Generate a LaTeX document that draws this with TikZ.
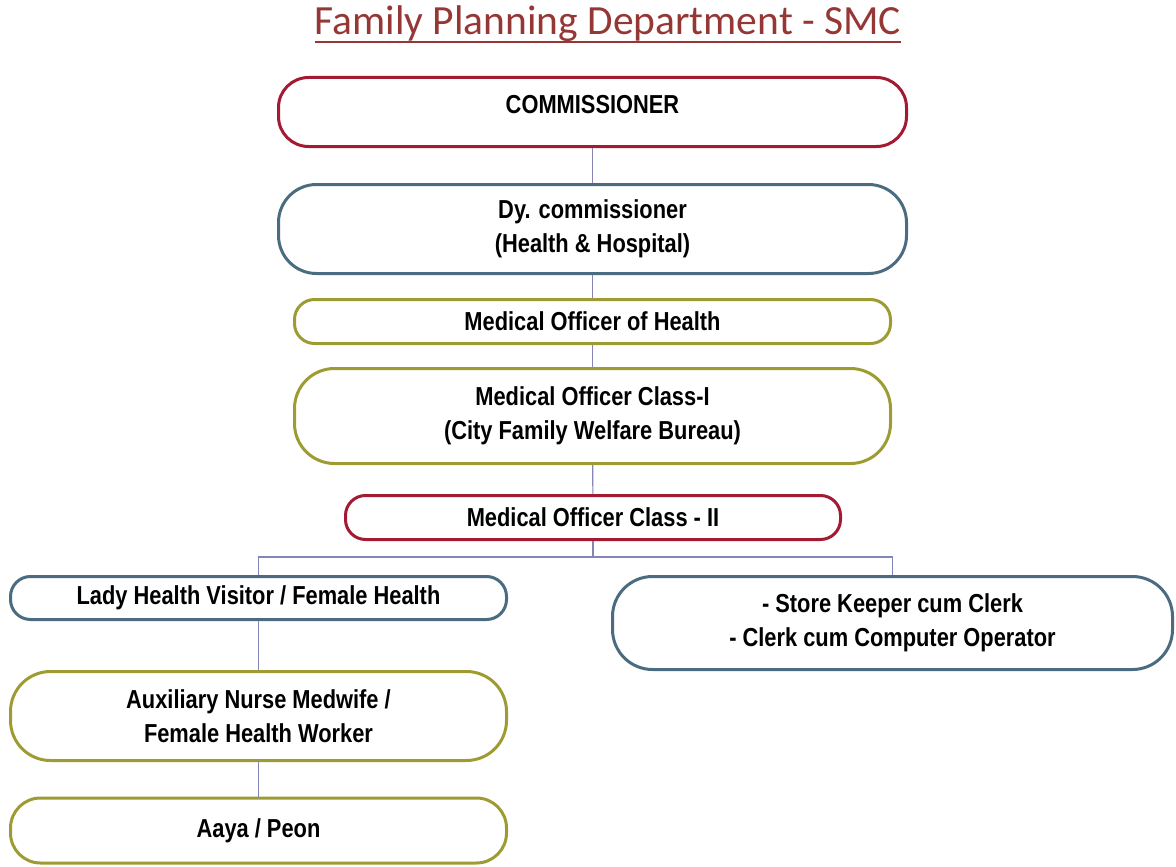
\documentclass[tikz,border=0pt]{standalone}
\usepackage{fontspec}
\setmainfont{Liberation Sans}[FakeStretch=0.84]
\newfontfamily\titlefont{Carlito}
\usepackage{tikz}

\definecolor{boxred}{HTML}{A31B33}
\definecolor{boxblue}{HTML}{4B6B80}
\definecolor{boxolive}{HTML}{9D9B32}
\definecolor{linkblue}{HTML}{8484B6}
\definecolor{titlered}{HTML}{953735}

\tikzstyle{every node}=[font=\bfseries\fontsize{26}{34}\selectfont]
\tikzstyle{post}=[rectangle,
                  line width=3pt,
                  fill=white,
                  align=center,
                  inner sep=0pt]
\tikzstyle{redpost}=[post,draw=boxred]
\tikzstyle{bluepost}=[post,draw=boxblue]
\tikzstyle{olivepost}=[post,draw=boxolive]
\tikzstyle{link}=[draw=linkblue,line width=1.2pt]

\begin{document}
\begin{tikzpicture}[x=1pt,y=-1pt]
\useasboundingbox (0,0) rectangle (1176,867);
\node (title) [anchor=base,inner sep=0pt,text=titlered,
  font=\titlefont\fontsize{41.5}{44}\selectfont] at (608,35) {Family Planning Department - SMC};
\draw[titlered,line width=2.2pt] ([yshift=-7pt]title.base west) -- ([yshift=-7pt]title.base east);

\node (comm)  [redpost,minimum width=628pt,minimum height=69pt,rounded corners=30pt,text depth=16pt] at (592.5,112) {COMMISSIONER};
\node (dy)    [bluepost,minimum width=628pt,minimum height=89pt,rounded corners=38pt] at (592.5,229) {Dy. commissioner\\(Health \& Hospital)};
\node (moh)   [olivepost,minimum width=596pt,minimum height=44pt,rounded corners=20pt] at (592.5,321.5) {Medical Officer of Health};
\node (mo1)   [olivepost,minimum width=596pt,minimum height=95pt,rounded corners=40pt] at (592.5,416) {Medical Officer Class-I\\(City Family Welfare Bureau)};
\node (mo2)   [redpost,minimum width=495pt,minimum height=44pt,rounded corners=20pt] at (593,517.5) {Medical Officer Class - II};
\node (lhv)   [bluepost,minimum width=496pt,minimum height=43pt,rounded corners=20pt] at (258.5,598) {Lady Health Visitor / Female Health};
\node (store) [bluepost,minimum width=560pt,minimum height=93pt,rounded corners=40pt] at (892.5,623) {- Store Keeper cum Clerk\\- Clerk cum Computer Operator};
\node (aux)   [olivepost,minimum width=496pt,minimum height=89pt,rounded corners=40pt] at (258.5,716) {Auxiliary Nurse Medwife /\\Female Health Worker};
\node (aaya)  [olivepost,minimum width=496pt,minimum height=65pt,rounded corners=30pt] at (258.5,830.5) {Aaya / Peon};
\coordinate (bus) at (593,557);

 \path[link] (comm) edge (dy);
 \path[link] (dy) edge (moh);
 \path[link] (moh) edge (mo1);
 \path[link] (mo1) edge (mo2);
 \path[link] (mo2) edge (bus);
 \draw[link] (bus) -| (lhv);
 \draw[link] (bus) -| (store);
 \path[link] (lhv) edge (aux);
 \path[link] (aux) edge (aaya);
\end{tikzpicture}
\end{document}
